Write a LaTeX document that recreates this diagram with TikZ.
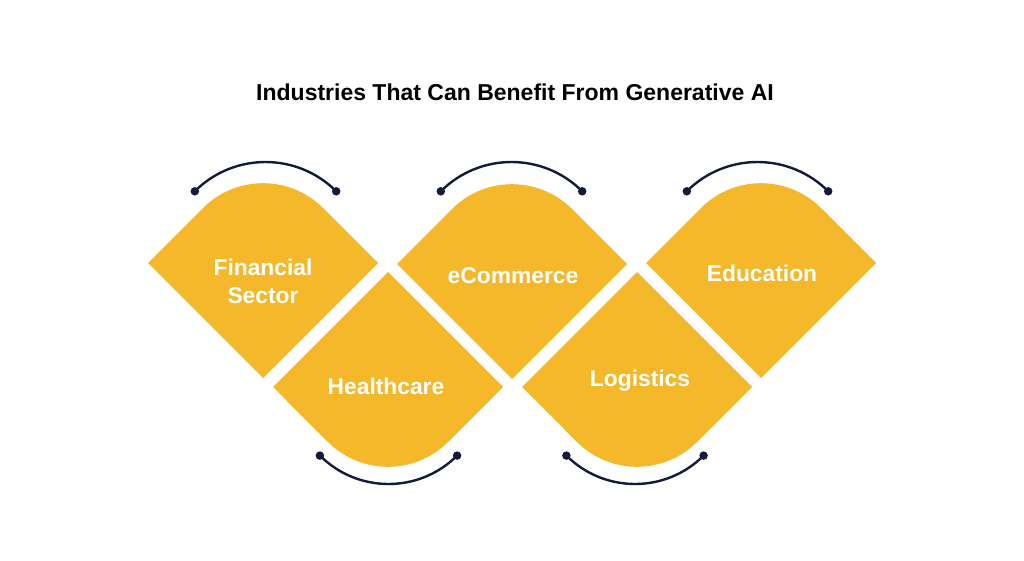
\documentclass[tikz,border=0pt]{standalone}
\usepackage{fontspec}
\setmainfont{Liberation Sans}
\usetikzlibrary{calc}
\definecolor{yel}{HTML}{F5B82A}
\definecolor{navy}{HTML}{141B3A}
\begin{document}
\begin{tikzpicture}[x=1pt,y=-1pt,
  shapefill/.style={fill=yel},
  lab/.style={text=white,font=\bfseries\fontsize{22.8}{28}\selectfont,align=center,inner sep=0pt},
  arcline/.style={draw=navy,line width=2.4pt},
  dotnode/.style={circle,fill=navy,inner sep=0pt,minimum size=8.5pt}]
\useasboundingbox[fill=white] (0,0) rectangle (1024,561);
\node[font=\bfseries\fontsize{23}{27}\selectfont,text=black] (title) at (515,92) {Industries That Can Benefit From Generative AI};
% top-rounded shapes
\foreach \cx/\cy in {263/263,512/264,761/263}{
  \begin{scope}[shift={(\cx,\cy)}]
    \fill[shapefill] (-115,0) -- (-60.1,-54.9) arc[start angle=225,end angle=315,radius=85] -- (115,0) -- (0,115) -- cycle;
  \end{scope}
}
% bottom-rounded shapes
\foreach \cx/\cy in {388/387,637/387}{
  \begin{scope}[shift={(\cx,\cy)}]
    \fill[shapefill] (-115,0) -- (0,-115) -- (115,0) -- (60.1,54.9) arc[start angle=45,end angle=135,radius=85] -- cycle;
  \end{scope}
}
% labels
\node[lab] (fin) at (263,281) {Financial\\Sector};
\node[lab] (hea) at (386,386) {Healthcare};
\node[lab] (eco) at (513,276) {eCommerce};
\node[lab] (log) at (640,381) {Logistics};
\node[lab] (edu) at (762,273) {Education};
% top arcs
\foreach \nm/\cx in {a/265.5,b/511.5,c/757.5}{
  \node[dotnode] (\nm1) at ($(\cx,262)+(-70.7,-70.7)$) {};
  \node[dotnode] (\nm2) at ($(\cx,262)+(70.7,-70.7)$) {};
  \draw[arcline] (\nm1.center) arc[start angle=225,end angle=315,radius=100];
}
% bottom arcs
\foreach \nm/\cx in {d/388.5,e/635}{
  \node[dotnode] (\nm1) at ($(\cx,387)+(-68.6,68.6)$) {};
  \node[dotnode] (\nm2) at ($(\cx,387)+(68.6,68.6)$) {};
  \draw[arcline] (\nm2.center) arc[start angle=45,end angle=135,radius=97];
}
\end{tikzpicture}
\end{document}
